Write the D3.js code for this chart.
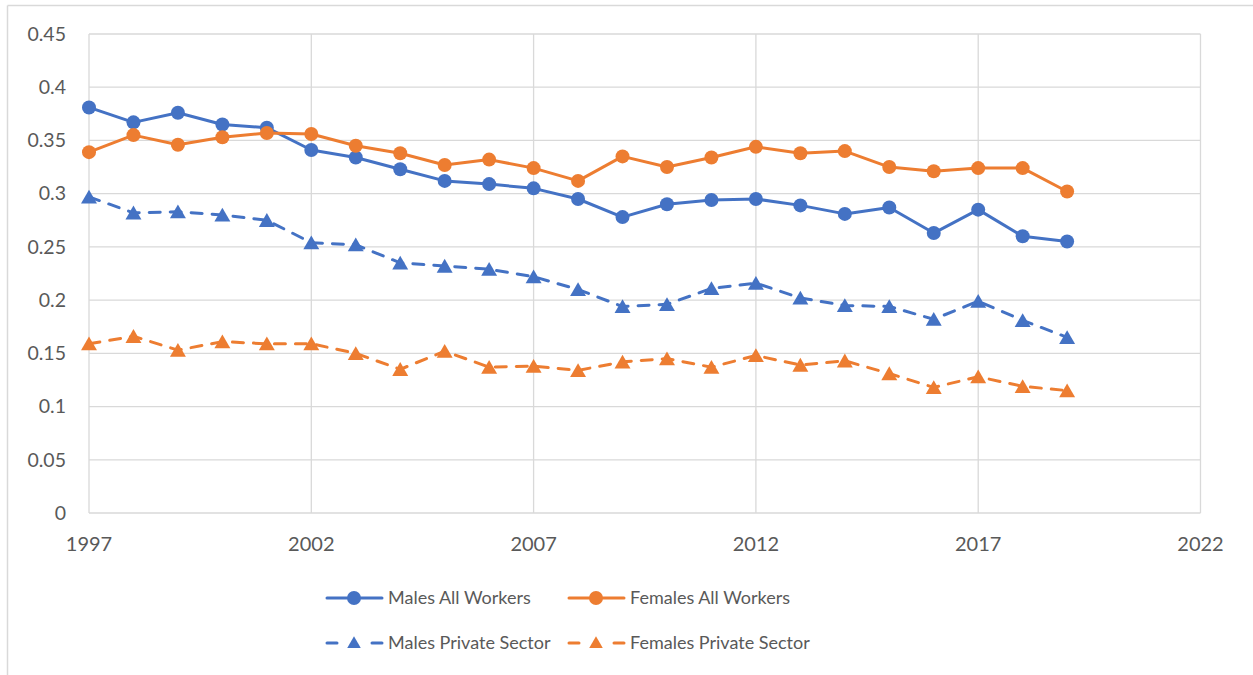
<!DOCTYPE html>
<html>
<head>
<meta charset="utf-8">
<script src="https://cdn.jsdelivr.net/npm/d3@7"></script>
<style>
  body { margin: 0; background: #fff; }
  text { font-family: Lato, "Open Sans", sans-serif; fill: #595959; }
</style>
</head>
<body>
<svg width="1253" height="675"></svg>
<script>
const years = d3.range(1997, 2020)

const malesAll = [0.381, 0.367, 0.376, 0.365, 0.362, 0.341, 0.334, 0.323, 0.312, 0.309, 0.305, 0.295, 0.278,
  0.290, 0.294, 0.295, 0.289, 0.281, 0.287, 0.263, 0.285, 0.260, 0.255]
const femalesAll = [0.339, 0.355, 0.346, 0.353, 0.357, 0.356, 0.345, 0.338, 0.327, 0.332, 0.324, 0.312, 0.335,
  0.325, 0.334, 0.344, 0.338, 0.340, 0.325, 0.321, 0.324, 0.324, 0.302]
const malesPrivate = [0.297, 0.282, 0.283, 0.280, 0.275, 0.254, 0.252, 0.235, 0.232, 0.229, 0.222, 0.210, 0.194,
  0.196, 0.211, 0.216, 0.202, 0.195, 0.194, 0.182, 0.199, 0.181, 0.165]
const femalesPrivate = [0.159, 0.166, 0.153, 0.161, 0.159, 0.159, 0.150, 0.135, 0.152, 0.137, 0.138, 0.134, 0.142,
  0.145, 0.137, 0.148, 0.139, 0.143, 0.131, 0.118, 0.128, 0.119, 0.115]

const yTicks = [0, 0.05, 0.1, 0.15, 0.2, 0.25, 0.3, 0.35, 0.4, 0.45]
const xTicks = [1997, 2002, 2007, 2012, 2017, 2022]

const blue = "#4472C4"
const orange = "#ED7D31"

const series = [
  { name: "Males All Workers", values: malesAll, color: blue, dashed: false },
  { name: "Females All Workers", values: femalesAll, color: orange, dashed: false },
  { name: "Males Private Sector", values: malesPrivate, color: blue, dashed: true },
  { name: "Females Private Sector", values: femalesPrivate, color: orange, dashed: true }
]

const svg = d3.select("svg")

// outer chart border (left and top only visible)
svg.append("line").attr("x1", 7.5).attr("x2", 7.5).attr("y1", 5.5).attr("y2", 675)
  .attr("stroke", "#d9d9d9").attr("stroke-width", 1.5)
svg.append("line").attr("x1", 7.5).attr("x2", 1253).attr("y1", 5.5).attr("y2", 5.5)
  .attr("stroke", "#d9d9d9").attr("stroke-width", 1.5)

const x = d3.scaleLinear().domain([1997, 2022]).range([89, 1200.5])
const y = d3.scaleLinear().domain([0, 0.45]).range([513, 34])

const grid = svg.append("g")
grid.selectAll("line.h").data(yTicks).enter().append("line")
  .attr("x1", x(1997)).attr("x2", x(2022))
  .attr("y1", d => y(d)).attr("y2", d => y(d))
  .attr("stroke", "#d9d9d9").attr("stroke-width", 1.3)
grid.selectAll("line.v").data(xTicks).enter().append("line")
  .attr("x1", d => x(d)).attr("x2", d => x(d))
  .attr("y1", y(0)).attr("y2", y(0.45))
  .attr("stroke", "#d9d9d9").attr("stroke-width", 1.3)

svg.append("g").selectAll("text").data(yTicks).enter().append("text")
  .attr("x", 66).attr("y", d => y(d)).attr("dy", "0.35em")
  .attr("text-anchor", "end").style("font-size", "19.5px")
  .text(d => d)

svg.append("g").selectAll("text").data(xTicks).enter().append("text")
  .attr("x", d => x(d)).attr("y", 544).attr("dy", "0.35em")
  .attr("text-anchor", "middle").style("font-size", "20px")
  .text(d => d)

const line = d3.line().x((d, i) => x(years[i])).y(d => y(d))
const tri = d3.symbol().type(d3.symbolTriangle).size(110)

series.forEach(s => {
  svg.append("path")
    .attr("d", line(s.values))
    .attr("fill", "none")
    .attr("stroke", s.color)
    .attr("stroke-width", 3)
    .attr("stroke-linejoin", "round")
    .attr("stroke-linecap", "round")
    .attr("stroke-dasharray", s.dashed ? "11,10" : null)

  const g = svg.append("g")
  if (s.dashed) {
    g.selectAll("path").data(s.values).enter().append("path")
      .attr("d", tri)
      .attr("transform", (d, i) => `translate(${x(years[i])},${y(d) + 2})`)
      .attr("fill", s.color)
  } else {
    g.selectAll("circle").data(s.values).enter().append("circle")
      .attr("cx", (d, i) => x(years[i])).attr("cy", d => y(d))
      .attr("r", 7).attr("fill", s.color)
  }
})

// legend
const legendPos = [[327, 598], [569, 598], [327, 643], [569, 643]]
series.forEach((s, i) => {
  const [lx, ly] = legendPos[i]
  const g = svg.append("g").attr("transform", `translate(${lx},${ly})`)
  if (s.dashed) {
    g.append("line").attr("x1", 0).attr("x2", 10).attr("y1", 0).attr("y2", 0)
      .attr("stroke", s.color).attr("stroke-width", 3).attr("stroke-linecap", "round")
    g.append("line").attr("x1", 45).attr("x2", 55).attr("y1", 0).attr("y2", 0)
      .attr("stroke", s.color).attr("stroke-width", 3).attr("stroke-linecap", "round")
    g.append("path").attr("d", d3.symbol().type(d3.symbolTriangle).size(80))
      .attr("transform", "translate(27,1)").attr("fill", s.color)
  } else {
    g.append("line").attr("x1", 0).attr("x2", 55).attr("y1", 0).attr("y2", 0)
      .attr("stroke", s.color).attr("stroke-width", 3).attr("stroke-linecap", "round")
    g.append("circle").attr("cx", 27).attr("cy", 0).attr("r", 7).attr("fill", s.color)
  }
  g.append("text").attr("x", 61).attr("y", 0).attr("dy", "0.35em")
    .style("font-size", "18px").text(s.name)
})
</script>
</body>
</html>
